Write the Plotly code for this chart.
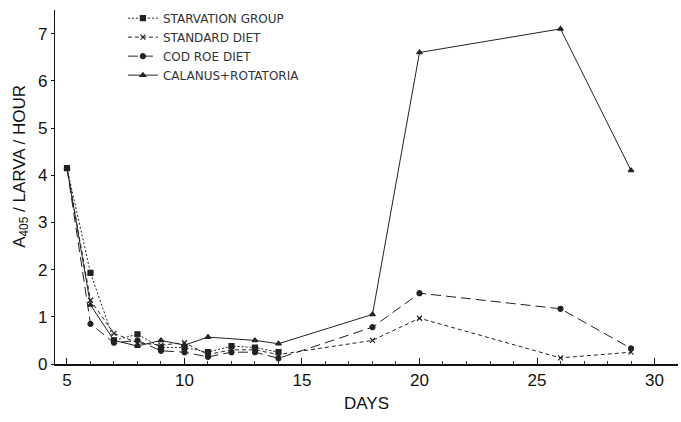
import plotly.graph_objects as go

days_starv = [5, 6, 7, 8, 9, 10, 11, 12, 13, 14]
starvation = [4.15, 1.93, 0.5, 0.63, 0.35, 0.35, 0.25, 0.38, 0.35, 0.25]

days_std = [5, 6, 7, 8, 9, 10, 11, 12, 13, 14, 18, 20, 26, 29]
standard = [4.15, 1.35, 0.65, 0.45, 0.4, 0.45, 0.2, 0.3, 0.3, 0.2, 0.5, 0.97, 0.13, 0.25]

days_cod = [5, 6, 7, 8, 9, 10, 11, 12, 13, 14, 18, 20, 26, 29]
cod_roe = [4.15, 0.85, 0.45, 0.5, 0.28, 0.25, 0.15, 0.25, 0.25, 0.12, 0.78, 1.5, 1.17, 0.33]

days_cal = [5, 6, 7, 8, 9, 10, 11, 13, 14, 18, 20, 26, 29]
calanus = [4.15, 1.25, 0.5, 0.38, 0.5, 0.4, 0.57, 0.5, 0.43, 1.05, 6.6, 7.1, 4.1]

series_names = ["STARVATION GROUP", "STANDARD DIET", "COD ROE DIET", "CALANUS+ROTATORIA"]
x_ticks = [5, 10, 15, 20, 25, 30]
y_ticks = [0, 1, 2, 3, 4, 5, 6, 7]

fig = go.Figure()
specs = [
    (days_starv, starvation, "2px,2px", "square"),
    (days_std, standard, "4px,3px", "x-thin-open"),
    (days_cod, cod_roe, "10px,5px", "circle"),
    (days_cal, calanus, "solid", "triangle-up"),
]
for name, (x, y, dash, sym) in zip(series_names, specs):
    fig.add_trace(go.Scatter(
        x=x, y=y, name=name, mode="lines+markers",
        line=dict(color="#222222", width=1, dash=dash),
        marker=dict(symbol=sym, size=5, color="#222222",
                    line=dict(color="#222222", width=1.2)),
    ))

fig.update_layout(
    width=681, height=422,
    margin=dict(l=55, r=3, t=10, b=58),
    paper_bgcolor="white", plot_bgcolor="white",
    font=dict(family="Liberation Sans, Arial, sans-serif", color="#111111"),
    showlegend=True,
    legend=dict(x=0.109, y=1.018, xanchor="left", yanchor="top",
                bgcolor="rgba(0,0,0,0)", tracegroupgap=0,
                font=dict(size=12, color="#333333",
                          family="DejaVu Sans, Liberation Sans, sans-serif"),
                itemwidth=30),
    xaxis=dict(
        range=[4.49, 31.0], tickvals=x_ticks, automargin=False,
        showgrid=False, zeroline=False, showline=True, linecolor="#111111", linewidth=1.8,
        ticks="inside", ticklen=6, tickcolor="#111111",
        minor=dict(dtick=1, ticks="inside", ticklen=3, tickcolor="#333333"),
        tickfont=dict(size=17),
        title=dict(text="DAYS", font=dict(size=17), standoff=8),
    ),
    yaxis=dict(
        range=[0, 7.5], tickvals=y_ticks, automargin=False,
        showgrid=False, zeroline=False, showline=True, linecolor="#111111", linewidth=1.2,
        ticks="outside", ticklen=3, tickcolor="#111111",
        tickfont=dict(size=17),
    ),
    annotations=[dict(
        text="A<sub>405</sub> / LARVA / HOUR", textangle=-90,
        xref="paper", yref="paper", x=-0.055, y=0.559,
        xanchor="center", yanchor="middle", showarrow=False,
        font=dict(size=17, color="#111111"),
    )],
)

fig.write_html("out.html", config={"displayModeBar": False},
               post_script="document.body.style.margin='0';document.body.style.overflow='hidden';")
